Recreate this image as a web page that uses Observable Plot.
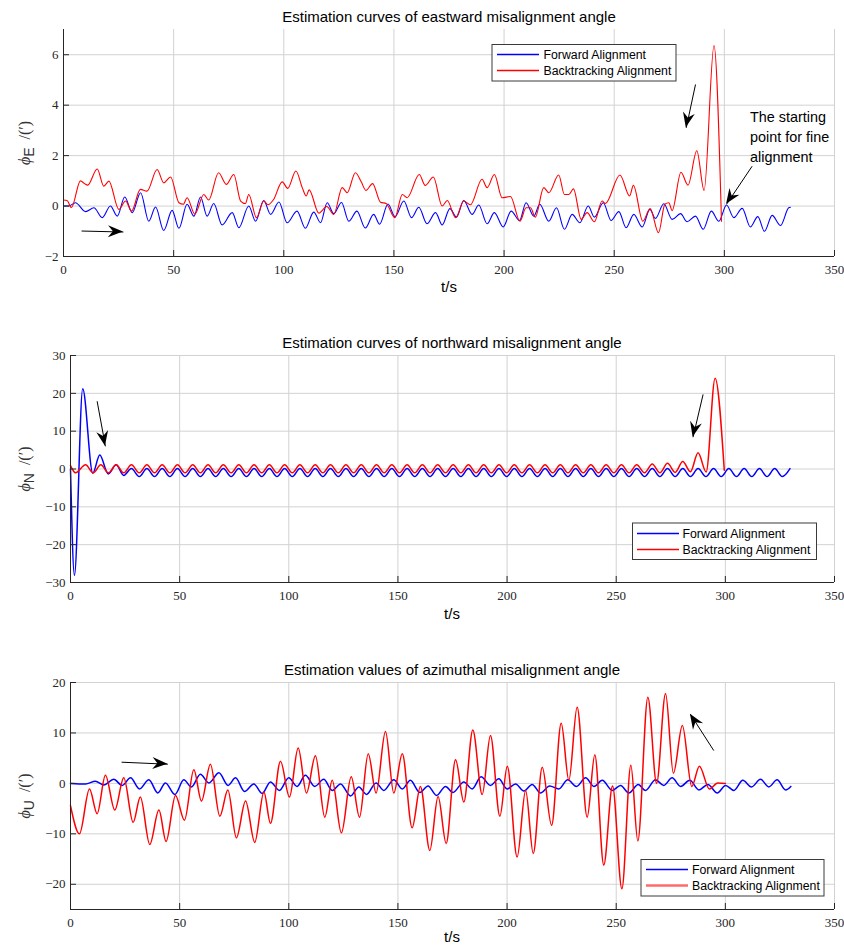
<!DOCTYPE html>
<html><head><meta charset="utf-8">
<script src="https://cdn.jsdelivr.net/npm/d3@7"></script>
<script src="https://cdn.jsdelivr.net/npm/@observablehq/plot@0.6"></script>
<style>
html,body{margin:0;padding:0;background:#fff;}
#root{position:relative;width:844px;height:946px;overflow:hidden;background:#fff;}
#root svg{position:absolute;left:0;}
</style></head><body><div id="root"></div>
<script>
// ---------- data ----------
const xTicks = [0, 50, 100, 150, 200, 250, 300, 350];
const yTicksE = [-2, 0, 2, 4, 6];
const yTicksN = [-30, -20, -10, 0, 10, 20, 30];
const yTicksU = [-20, -10, 0, 10, 20];
const seriesNames = ["Forward Alignment", "Backtracking Alignment"];
const titles = ["Estimation curves of eastward misalignment angle",
                "Estimation curves of northward misalignment angle",
                "Estimation values of azimuthal misalignment angle"];
const noteLines = ["The starting", "point for fine", "alignment"];

// eastward [t, value]
const eastForward = [[0,0],[2.4,0],[5.4,0.13],[10,-0.22],[13.8,-0.07],[17.6,-0.46],[21.3,0],[24.4,-0.4],[27.8,0.36],[31.2,-0.26],[35,0.53],[38.7,-0.6],[41.8,-0.04],[45.5,-0.97],[49.3,-0.17],[52.4,-0.88],[56.1,0.07],[59.2,-0.4],[62.2,0.36],[65.2,-0.4],[68.2,0.1],[72,-0.75],[76.6,-0.26],[79.6,-0.86],[84.1,0],[87.2,-0.6],[90.9,0.22],[94,-0.33],[97.8,0.16],[101.5,-0.66],[106,-0.2],[109.8,-0.88],[113.6,-0.24],[116.7,-0.66],[119.7,0.13],[122.7,-0.3],[126.2,0.14],[129.5,-0.6],[133.2,-0.2],[137,-0.87],[140.8,-0.33],[143.5,-0.72],[147.3,0.08],[150.5,-0.42],[154.5,0.2],[158,-0.46],[161.3,-0.05],[165,-0.7],[168.9,-0.26],[171.9,-0.75],[175.4,-0.1],[178.4,-0.44],[181.7,0.22],[185.5,-0.33],[188.5,0.04],[192.3,-0.7],[195.6,-0.26],[199.6,-0.83],[203.2,-0.2],[207,-0.57],[210,0.13],[213.5,-0.4],[216.2,0.07],[220.3,-0.6],[223.8,-0.07],[227.4,-0.92],[230.9,-0.33],[234.4,-0.66],[238.2,0],[241,-0.44],[245,0.13],[248.6,-0.57],[252.1,-0.22],[255.4,-0.86],[258.9,-0.33],[262.7,-0.83],[266.2,-0.13],[268.7,-0.49],[272.5,0.09],[276.3,-0.53],[280.1,-0.3],[283.1,-0.62],[286.9,-0.4],[290.4,-0.92],[294.1,-0.2],[297.5,-0.6],[301,0.04],[304.3,-0.46],[308.1,-0.09],[311.8,-0.83],[315.2,-0.42],[318.2,-1.0],[321.7,-0.37],[325.5,-0.77],[329.2,-0.07],[330,-0.05]];
const eastBack = [[0,0.24],[1.6,0.22],[3.6,-0.06],[7.7,1.0],[9.4,0.9],[11,0.83],[15.3,1.47],[18.3,0.79],[20.6,0.99],[25.1,-0.13],[28.2,0.2],[30.9,-0.2],[34.9,0.66],[37.9,0.59],[42.5,1.45],[45.5,0.92],[48.6,1.15],[52.4,0.13],[54.4,0.07],[56.1,0.33],[59.6,-0.32],[63.7,0.46],[65.9,0.24],[70.4,1.32],[73.9,0.86],[77.3,1.25],[80.4,0.2],[82.6,0.1],[84.1,0.46],[87.6,-0.46],[90.9,0.2],[92.8,0.05],[95.3,0.25],[99.3,0.96],[101.8,0.7],[105.5,1.39],[108.5,0.7],[110.2,0.4],[111.5,0.64],[115.9,-0.28],[119.5,-0.02],[122.7,-0.33],[126.5,0.73],[128.8,0.53],[132.5,1.32],[135.2,0.95],[137.3,0.62],[140.3,0.89],[143.9,0.15],[146.5,0.1],[150.4,-0.46],[153.8,0.46],[156,0.33],[161.5,1.25],[164.2,0.82],[167.9,1.15],[171.9,0],[174.2,0.22],[178,-0.46],[181.7,0.2],[184.7,0.05],[190,1.06],[192.3,0.73],[195.6,1.25],[199.1,0.33],[202.9,0.38],[207.2,-0.6],[210,-0.07],[212,-0.07],[214.2,-0.44],[218,0.73],[220.3,0.53],[224.8,1.23],[227.4,0.46],[229.4,0.46],[231.5,0.68],[235,-0.53],[237.7,-0.26],[241,-0.62],[244.5,0.2],[246,0.1],[252.6,1.23],[257,0.4],[258.7,0.82],[263,-0.6],[266.3,-0.1],[270.1,-1.06],[273,0.07],[274.8,0.13],[276.3,-0.18],[280.3,1.34],[283.5,0.83],[287.5,2.19],[290.8,0.62],[295.3,6.36],[298.7,-0.6]];

// northward [t, value]
const northForward = [[0,0],[1.8,-28.1],[5.6,21.2],[10.2,-1.1],[13.4,3.7],[17.3,-1.3],[20.9,1.1],[24.4,-1.7],[27.9,0.1],[31.5,-2.0],[35.0,0.1],[38.5,-2.0],[42.0,0.1],[45.5,-2.0],[49.0,0.1],[52.5,-2.0],[56.0,0.1],[59.5,-2.0],[63.0,0.1],[66.5,-2.0],[70.0,0.1],[73.6,-2.0],[77.1,0.1],[80.6,-2.0],[84.1,0.1],[87.6,-2.0],[91.1,0.1],[94.6,-2.0],[98.1,0.1],[101.6,-2.0],[105.1,0.1],[108.6,-2.0],[112.1,0.1],[115.6,-2.0],[119.1,0.1],[122.7,-2.0],[126.2,0.1],[129.7,-2.0],[133.2,0.1],[136.7,-2.0],[140.2,0.1],[143.7,-2.0],[147.2,0.1],[150.7,-2.0],[154.2,0.1],[157.7,-2.0],[161.2,0.1],[164.7,-2.0],[168.2,0.1],[171.8,-2.0],[175.3,0.1],[178.8,-2.0],[182.3,0.1],[185.8,-2.0],[189.3,0.1],[192.8,-2.0],[196.3,0.1],[199.8,-2.0],[203.3,0.1],[206.8,-2.0],[210.3,0.1],[213.9,-2.0],[217.4,0.1],[220.9,-2.0],[224.4,0.1],[227.9,-2.0],[231.4,0.1],[234.9,-2.0],[238.4,0.1],[241.9,-2.0],[245.4,0.1],[248.9,-2.0],[252.4,0.1],[255.9,-2.0],[259.4,0.1],[263.0,-2.0],[266.5,0.1],[270.0,-2.0],[273.5,0.1],[277.0,-2.0],[280.5,0.1],[284.0,-2.0],[287.5,0.1],[291.1,-2.0],[294.6,0.1],[298.1,-2.0],[301.6,0.1],[305.1,-2.0],[308.6,0.1],[312.1,-2.0],[315.6,0.1],[319.1,-2.0],[322.6,0.1],[326.1,-2.0],[329.6,0.1]];
const northBack = [[0,0.9],[2.3,-1.0],[6.9,1.1],[10.4,-1.0],[13.9,1.1],[17.4,-1.0],[20.9,1.1],[24.4,-1.0],[27.9,1.1],[31.5,-1.0],[35.0,1.1],[38.5,-1.0],[42.0,1.1],[45.5,-1.0],[49.0,1.1],[52.5,-1.0],[56.0,1.1],[59.5,-1.0],[63.0,1.1],[66.5,-1.0],[70.0,1.1],[73.6,-1.0],[77.1,1.1],[80.6,-1.0],[84.1,1.1],[87.6,-1.0],[91.1,1.1],[94.6,-1.0],[98.1,1.1],[101.6,-1.0],[105.1,1.1],[108.6,-1.0],[112.1,1.1],[115.6,-1.0],[119.1,1.1],[122.7,-1.0],[126.2,1.1],[129.7,-1.0],[133.2,1.1],[136.7,-1.0],[140.2,1.1],[143.7,-1.0],[147.2,1.1],[150.7,-1.0],[154.2,1.1],[157.7,-1.0],[161.2,1.1],[164.7,-1.0],[168.2,1.1],[171.8,-1.0],[175.3,1.1],[178.8,-1.0],[182.3,1.1],[185.8,-1.0],[189.3,1.1],[192.8,-1.0],[196.3,1.1],[199.8,-1.0],[203.3,1.1],[206.8,-1.0],[210.3,1.1],[213.9,-1.0],[217.4,1.1],[220.9,-1.0],[224.4,1.1],[227.9,-1.0],[231.4,1.1],[234.9,-1.0],[238.4,1.1],[241.9,-1.0],[245.4,1.1],[248.9,-1.0],[252.4,1.1],[255.9,-1.0],[259.4,1.1],[263.0,-1.0],[266.5,1.3],[270.0,-1.0],[273.5,1.5],[277.0,-0.9],[280.5,2.0],[284.0,-0.7],[287.5,4.3],[291.2,-0.8],[295.3,24.0],[299.5,-0.3]];

// azimuthal (up) [t, value]
const upForward = [[0,0],[6.9,-0.1],[11.4,0.4],[15.3,-0.3],[19.8,0.8],[23.7,-0.4],[27.5,1.1],[31.6,-1.1],[35.9,0.7],[40,-1.9],[43.5,0.1],[47.8,-2.2],[51.9,0.7],[55.4,-0.7],[59.5,1.8],[63.4,0.1],[68,2.1],[72.2,-0.4],[75.6,1.1],[79.7,-1.6],[84,-0.1],[87.8,-2.0],[91.6,0.3],[95.7,-1.4],[100,1.1],[103.8,-0.6],[107.6,1.6],[111.9,-0.6],[116,0.8],[119.9,-1.4],[123.7,-0.1],[128.3,-2.5],[132.1,-0.7],[135.6,-2.2],[140,0.1],[143.5,-1.4],[148.1,0.7],[152,-1.1],[155.7,0.6],[160,-1.8],[163.8,-0.5],[167.7,-2.4],[171.8,-0.6],[175.2,-1.8],[180.2,0.3],[184,-1.1],[188.1,1.3],[192.4,-0.4],[196.2,0.9],[200,-1.1],[203.9,-0.1],[207.7,-1.5],[211.5,-0.2],[215.3,-1.9],[219.5,-0.5],[223.7,-1.1],[227.8,0.7],[231.8,-0.6],[236,1.1],[239.8,-0.6],[243.6,0.6],[248.2,-1.4],[252,-0.4],[255.8,-1.9],[260.1,-0.2],[263.4,-1.4],[268,0.7],[271.8,-0.4],[275.6,1.1],[279.5,-0.6],[283.7,0.6],[287.9,-1.3],[292,-0.2],[296.3,-1.9],[300.1,-0.4],[303.9,-1.4],[308,0.6],[312,-0.7],[316.1,0.8],[319.9,-0.7],[323.7,0.7],[327.6,-1.3],[330,-0.6]];
const upBack = [[0,-4.4],[4.1,-10],[8.7,-1.1],[12.2,-6],[16,1.6],[20.3,-5.3],[24.4,1.1],[28.7,-7.7],[32,-2.7],[36.3,-12.1],[40.5,-5.3],[43.8,-11.5],[48.1,-2.4],[52.2,-7.3],[56.5,2.7],[60,-3.5],[64.1,3.8],[68.4,-6.5],[72.1,-1.3],[76,-10.8],[80.2,-3.5],[84.4,-11.7],[88.6,-1.7],[91.6,-7.9],[96.2,4.4],[100.3,-2.7],[104.3,7],[108.1,-1.9],[112.2,5.5],[116.5,-6.7],[119.9,0.6],[124.1,-9.8],[128.6,1.3],[132.4,-6.7],[136.4,5.9],[140,-1.9],[144.3,10.3],[148.1,-1.9],[152,5.9],[156.5,-8.8],[160.3,-0.6],[164.6,-13.3],[168.4,-2.6],[172.1,-11.9],[176.4,4.7],[180.2,-3.7],[184.3,10.6],[188.6,-2.2],[192.4,9.5],[196.7,-6.5],[200.1,3.4],[204.6,-14.6],[208.5,-1.4],[212,-13.9],[216.1,3.2],[220.4,-8.3],[224.8,11.9],[228.3,0.6],[232.1,15.1],[236.7,-6.7],[240.2,5.7],[244.3,-16.2],[248.3,-0.5],[252.6,-20.9],[256.7,3.6],[259.9,-11.4],[264.5,17.1],[268.5,0],[272.6,17.8],[276.2,2],[280.3,11.5],[284.6,-0.6],[288.1,3.4],[292.7,-1.1],[296.5,0.1],[300,0]];

// annotation arrows [t1, v1, t2(tip), v2(tip)]
const arrowsE = [[8.2,-0.99,27.2,-1.03],[286.9,4.82,282.7,3.1],[312.6,1.58,301,0.07]];
const arrowsN = [[12.2,17.9,16,6.0],[289.8,19.7,285.2,8.4]];
const arrowsU = [[23.4,4.2,44.6,3.8],[294.7,6.5,284,13.7]];

// ---------- drawing ----------
const root = document.getElementById("root");
const W = 844;
const SERIF = "'Liberation Serif','Times New Roman',serif";
const SANS = "'Liberation Sans',Arial,Helvetica,sans-serif";
const AX = "#262626", GRID = "#d2d2d2";
const fmt = d => d < 0 ? "\u2212" + Math.abs(d) : String(d);

function scaleFn(s) { return s.apply ? (v => s.apply(v)) : d3.scaleLinear(s.domain, s.range); }

function panel(cfg) {
  const {top, height, mt, mb, ml, yDomain, yTicks, fwd, back, lw, arrows} = cfg;
  const mr = 10;
  const plotW = W - ml - mr, plotH = height - mt - mb;
  const px = d => d[0], py = d => d[1];
  const chart = Plot.plot({
    width: W, height, marginTop: mt, marginBottom: mb, marginLeft: ml, marginRight: mr,
    style: {fontFamily: SERIF, fontSize: "13px", background: "transparent", overflow: "visible"},
    x: {domain: [0, 350]},
    y: {domain: yDomain},
    marks: [
      Plot.gridX({ticks: xTicks, stroke: GRID, strokeOpacity: 1, strokeWidth: 1}),
      Plot.gridY({ticks: yTicks, stroke: GRID, strokeOpacity: 1, strokeWidth: 1}),
      Plot.line(fwd, {x: px, y: py, stroke: "#0000ff", strokeWidth: lw, curve: "monotone-x"}),
      Plot.line(back, {x: px, y: py, stroke: "#ff0000", strokeWidth: lw, curve: "monotone-x"}),
      Plot.ruleX([0], {stroke: AX, strokeWidth: 1}),
      Plot.ruleY([yDomain[0]], {stroke: AX, strokeWidth: 1}),
      Plot.tickX(xTicks, {x: d => d, insetTop: plotH - 6, stroke: AX}),
      Plot.tickY(yTicks, {y: d => d, insetRight: plotW - 6, stroke: AX}),
      Plot.axisX({ticks: xTicks, tickSize: 0, tickPadding: 8, tickFormat: fmt, label: null, fill: AX, fontSize: 13}),
      Plot.axisY({ticks: yTicks, tickSize: 0, tickPadding: 5, tickFormat: fmt, label: null, fill: AX, fontSize: 13}),
      Plot.link(arrows, {x1: d => d[0], y1: d => d[1], x2: d => d[2], y2: d => d[3], stroke: "#000", strokeWidth: 1})
    ]
  });
  chart.style.top = top + "px";
  chart.style.position = "absolute";
  const sx = scaleFn(chart.scale("x")), sy = scaleFn(chart.scale("y"));
  const g = d3.select(chart).append("g");
  for (const [t1, v1, t2, v2] of arrows) {
    const x1 = sx(t1), y1 = sy(v1), x2 = sx(t2), y2 = sy(v2);
    const a = Math.atan2(y2 - y1, x2 - x1);
    const L = 15, Hw = 6, N = 10;
    const pts = [[0, 0], [-L, -Hw], [-N, 0], [-L, Hw]].map(([u, w]) =>
      [x2 + u * Math.cos(a) - w * Math.sin(a), y2 + u * Math.sin(a) + w * Math.cos(a)]);
    g.append("path").attr("d", "M" + pts.map(p => p.join(",")).join("L") + "Z").attr("fill", "#000");
  }
  root.appendChild(chart);
  return chart;
}

panel({top: 0, height: 310, mt: 29, mb: 54, ml: 63, yDomain: [-2, 7], yTicks: yTicksE,
       fwd: eastForward, back: eastBack, lw: 1.1, arrows: arrowsE});
panel({top: 310, height: 320, mt: 45, mb: 48, ml: 70, yDomain: [-30, 30], yTicks: yTicksN,
       fwd: northForward, back: northBack, lw: 1.5, arrows: arrowsN});
panel({top: 630, height: 316, mt: 52, mb: 37, ml: 70, yDomain: [-25, 20], yTicks: yTicksU,
       fwd: upForward, back: upBack, lw: 1.5, arrows: arrowsU});

// ---------- overlay texts, legends ----------
const ov = d3.create("svg").attr("width", W).attr("height", 946)
  .style("position", "absolute").style("top", "0px").style("left", "0px").style("pointer-events", "none");

const titlePos = [[449, 22], [452, 348], [452, 675]];
titles.forEach((t, i) => ov.append("text").attr("x", titlePos[i][0]).attr("y", titlePos[i][1])
  .attr("text-anchor", "middle").attr("font-family", SANS).attr("font-size", 15).attr("fill", "#000").text(t));

[[449, 292], [452, 619], [452, 942]].forEach(([x, y]) => ov.append("text").attr("x", x).attr("y", y)
  .attr("text-anchor", "middle").attr("font-family", SANS).attr("font-size", 15).attr("fill", "#000").text("t/s"));

// y labels
const subs = ["E", "N", "U"];
[143, 469, 796].forEach((cy, i) => {
  const t = ov.append("text").attr("transform", `translate(30,${cy}) rotate(-90)`)
    .attr("text-anchor", "middle").attr("fill", "#333");
  t.append("tspan").attr("font-family", SERIF).attr("font-style", "italic").attr("font-size", 16).text("\u03D5");
  t.append("tspan").attr("font-family", SANS).attr("font-size", 14).attr("dy", 4).text(subs[i]);
  t.append("tspan").attr("font-family", SERIF).attr("font-size", 16).attr("dy", -4).attr("dx", 8).text("/(\u2032)");
});

// legends
function legend(x, y, w, h, lx1, lx2, ly1, ly2, tx, b1, b2, redStyle) {
  ov.append("rect").attr("x", x).attr("y", y).attr("width", w).attr("height", h)
    .attr("fill", "#fff").attr("stroke", "#3a3a3a").attr("stroke-width", 1);
  ov.append("line").attr("x1", lx1).attr("x2", lx2).attr("y1", ly1).attr("y2", ly1).attr("stroke", "#0000ff").attr("stroke-width", 1.3);
  ov.append("line").attr("x1", lx1).attr("x2", lx2).attr("y1", ly2).attr("y2", ly2)
    .attr("stroke", redStyle.color).attr("stroke-width", redStyle.width);
  [[seriesNames[0], b1], [seriesNames[1], b2]].forEach(([s, b]) =>
    ov.append("text").attr("x", tx).attr("y", b).attr("font-family", SANS).attr("font-size", 12.3).attr("fill", "#000").text(s));
}
legend(492, 44.5, 184, 36.5, 497, 539, 54.5, 70.5, 543.5, 59, 75, {color: "#ff0000", width: 1.3});
legend(632.5, 523, 184, 36.5, 637, 679, 533.5, 549.5, 682.5, 538, 554, {color: "#ff0000", width: 1.3});
legend(641, 859.5, 183, 36.5, 646, 688, 869.5, 885.5, 692, 874, 890, {color: "#ff6b6b", width: 2.4});

// annotation text
noteLines.forEach((s, i) => ov.append("text").attr("x", 750).attr("y", 121.5 + 20 * i)
  .attr("font-family", SANS).attr("font-size", 14.4).attr("fill", "#000").text(s));

root.appendChild(ov.node());
</script></body></html>
